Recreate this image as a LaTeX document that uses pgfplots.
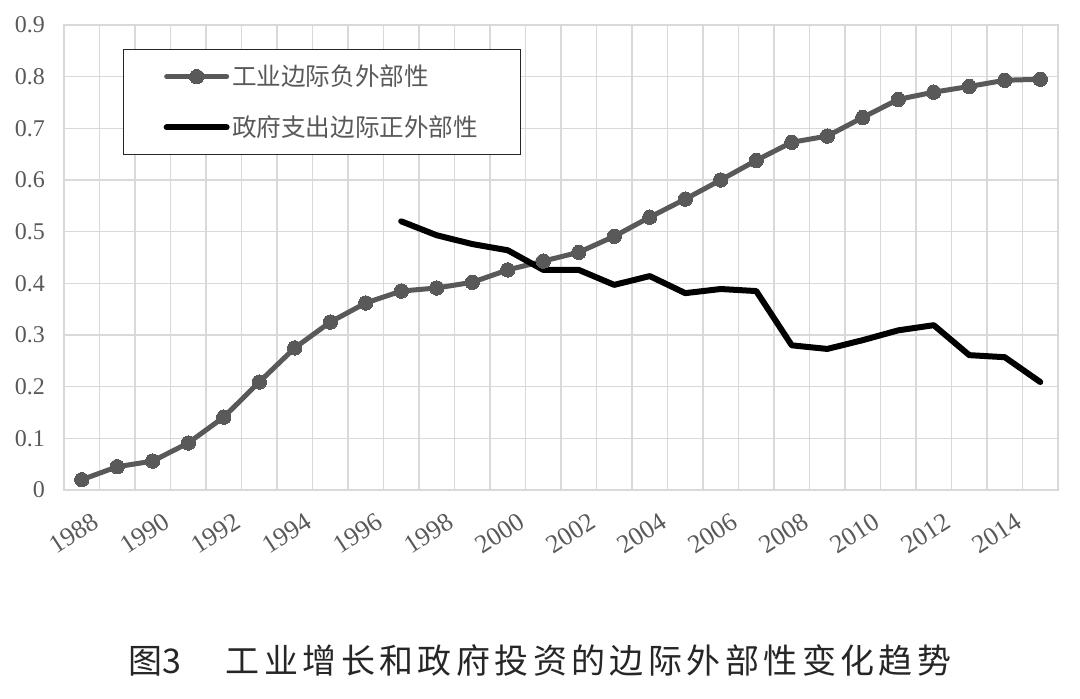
\documentclass[border=0pt]{standalone}
\usepackage{fontspec}
\setmainfont{Liberation Serif}
\newfontfamily\cjk{Noto Sans CJK SC}
\usepackage{pgfplots}
\usepackage{pgfplotstable}
\pgfplotsset{compat=1.18}
\definecolor{sergray}{HTML}{595959}
\definecolor{gridgray}{HTML}{D9D9D9}
\definecolor{labgray}{HTML}{595959}
\pgfplotsset{
  legmark/.style={legend image code/.code={\draw[##1, mark repeat=2, mark phase=2] plot coordinates {(0pt,0pt) (15pt,0pt) (30pt,0pt)};}},
  legline/.style={legend image code/.code={\draw[##1] (0pt,0pt) -- (30pt,0pt);}},
}

\pgfplotstableread{
year val
1988 0.020
1989 0.045
1990 0.056
1991 0.091
1992 0.141
1993 0.209
1994 0.275
1995 0.325
1996 0.362
1997 0.385
1998 0.391
1999 0.402
2000 0.426
2001 0.443
2002 0.460
2003 0.491
2004 0.528
2005 0.563
2006 0.600
2007 0.638
2008 0.673
2009 0.685
2010 0.721
2011 0.756
2012 0.770
2013 0.781
2014 0.793
2015 0.795
}\industry

\pgfplotstableread{
year val
1997 0.520
1998 0.493
1999 0.476
2000 0.464
2001 0.426
2002 0.426
2003 0.397
2004 0.414
2005 0.381
2006 0.389
2007 0.385
2008 0.280
2009 0.273
2010 0.290
2011 0.309
2012 0.319
2013 0.261
2014 0.257
2015 0.209
}\gov

\begin{document}
\begin{tikzpicture}
\useasboundingbox (-32pt,-104.5pt) rectangle (508pt,245pt);
\begin{axis}[
  at={(0pt,0pt)}, anchor=south west,
  scale only axis, width=497pt, height=232.5pt,
  xmin=1987.5, xmax=2015.5, ymin=0, ymax=0.9,
  xtick={1988,1990,1992,1994,1996,1998,2000,2002,2004,2006,2008,2010,2012,2014},
  minor xtick={1987.5,1988.5,...,2015.5},
  xminorgrids,
  ytick={0,0.1,0.2,0.3,0.4,0.5,0.6,0.7,0.8,0.9},
  ymajorgrids,
  grid style={gridgray, line width=0.8pt},
  minor grid style={gridgray, line width=0.8pt},
  axis line style={gridgray, line width=0.8pt},
  tick style={draw=none}, minor tick style={draw=none},
  /pgf/number format/assume math mode=true,
  xticklabel style={rotate=33, anchor=north east, font=\fontsize{13}{13}\selectfont, text=labgray, yshift=-8pt, xshift=1.5pt, /pgf/number format/1000 sep={}},
  yticklabel style={font=\fontsize{12}{12}\selectfont, text=labgray, xshift=-6pt},
  yticklabel={\pgfmathprintnumber[fixed,precision=1]{\tick}},
  legend style={at={(0.0594,0.948)}, anchor=north west, draw=black!85, line width=0.6pt, fill=white,
    font=\cjk\fontsize{12.3}{13}\selectfont, text=labgray, inner xsep=20pt, inner ysep=5.5pt, row sep=9.5pt,
    nodes={inner xsep=1.25pt}},
  legend cell align=left,
  every axis plot/.append style={line join=round, line cap=round},
]
\addplot[color=sergray, line width=2.5pt, mark=*, mark size=3.6pt, mark options={fill=sergray, draw=sergray, line width=0pt}, legmark]
  table[x=year,y=val] {\industry};
\addlegendentry{工业边际负外部性}
\addplot[color=black, line width=3pt, mark=none, legline]
  table[x=year,y=val] {\gov};
\addlegendentry{政府支出边际正外部性}
\end{axis}
\node[font=\cjk\fontsize{17}{17}\selectfont, text=black!85] at (238pt,-85pt) {图3\hspace{1.3em}{\addfontfeature{LetterSpace=13}工业增长和政府投资的边际外部性变化趋势}};
\end{tikzpicture}
\end{document}
